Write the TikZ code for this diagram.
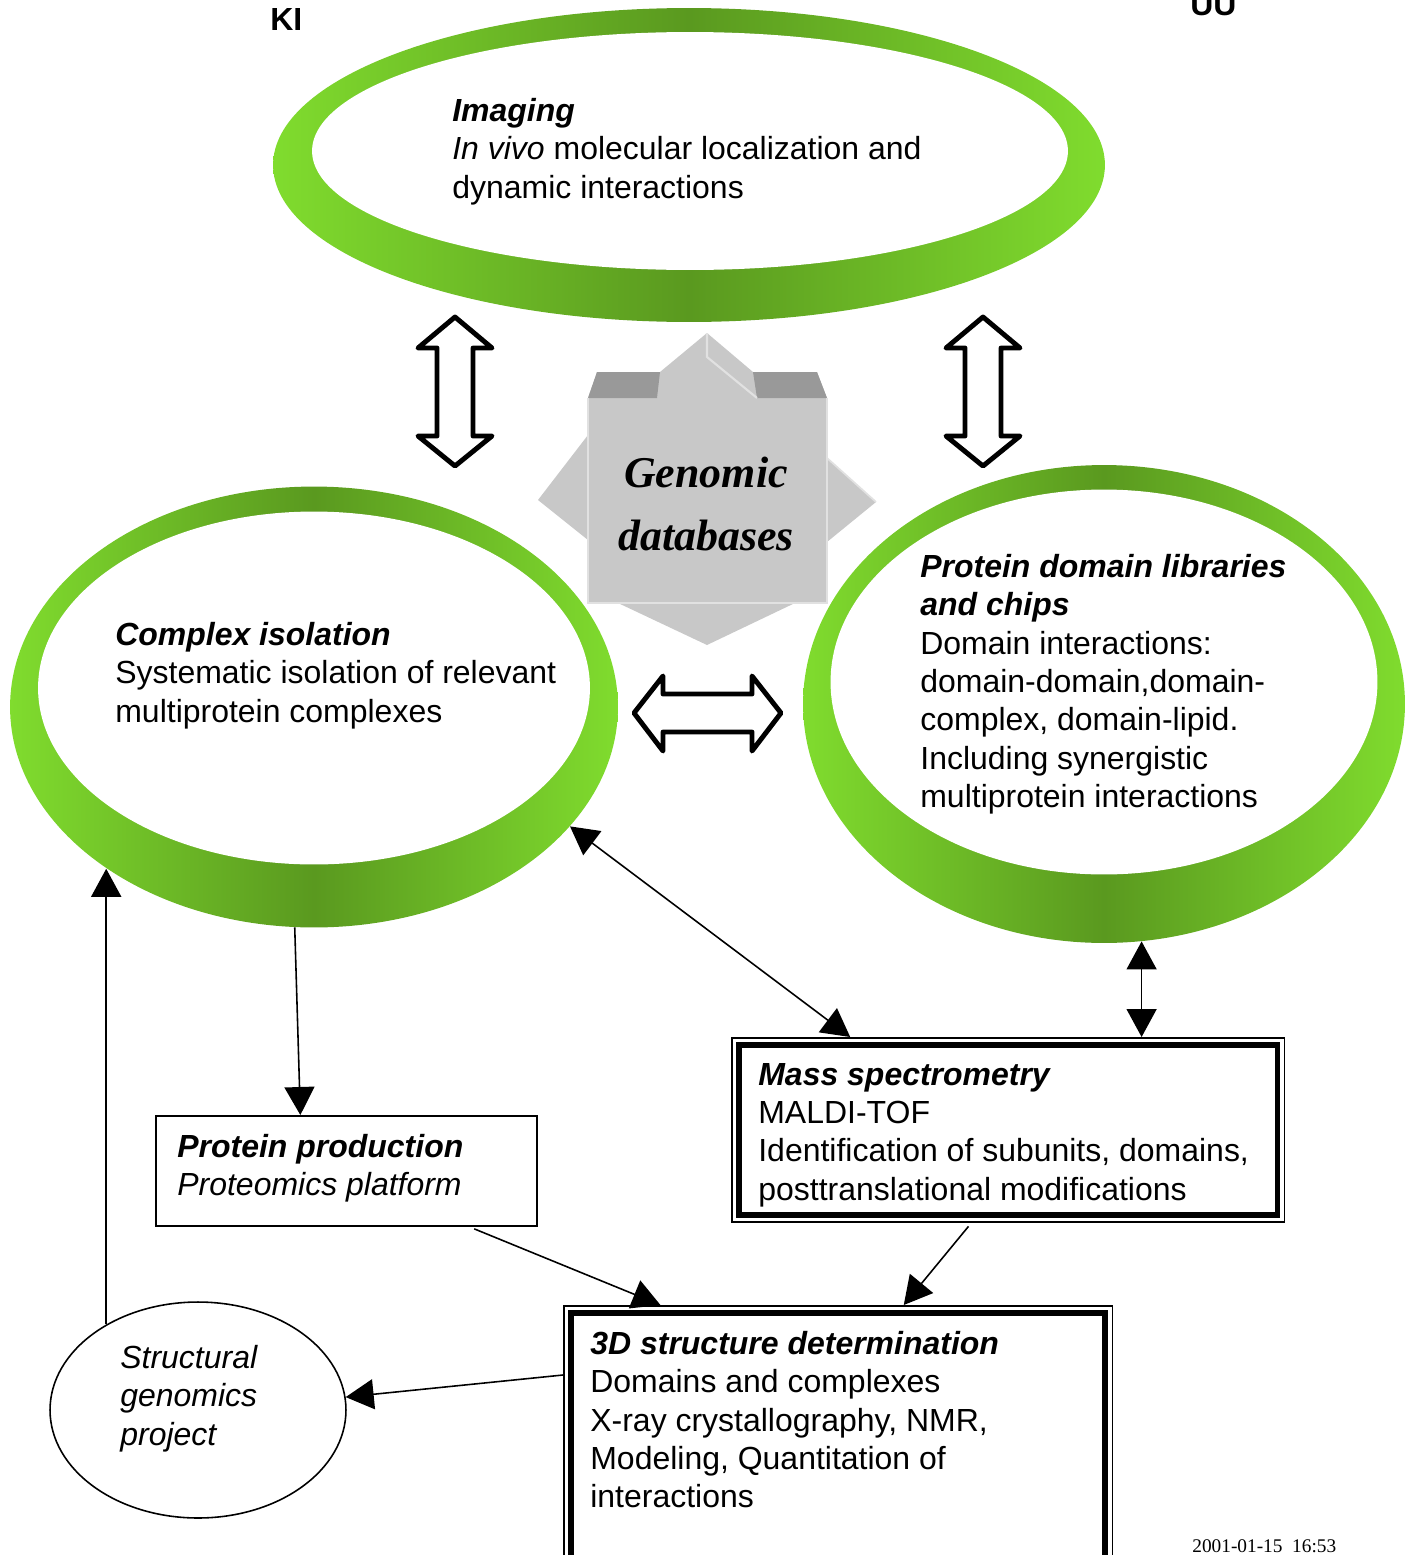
\documentclass[tikz,border=0pt]{standalone}
\usepackage{fontspec}
\setmainfont{Liberation Sans}
\newfontfamily\stampfont{Liberation Serif}
\usepackage{tikz}
\usepackage{xcolor}
\definecolor{LeafLight}{RGB}{128, 220, 46}
\definecolor{LeafDark}{RGB}{90, 153, 31}
\definecolor{StarFace}{RGB}{200, 200, 200}
\definecolor{StarTop}{RGB}{153, 153, 153}
\definecolor{StarEdge}{RGB}{225, 225, 225}
\usetikzlibrary{arrows.meta, positioning, shapes.geometric, calc}

\begin{document}
\begin{tikzpicture}[
    x=0.02cm, y=-0.02cm,
    leafring/.style={ellipse, inner sep=0pt, left color=LeafLight, right color=LeafLight, middle color=LeafDark},
    leafhole/.style={ellipse, inner sep=0pt, fill=white},
    bodytext/.style={anchor=north west, inner sep=0pt, align=left, font=\fontsize{18.2}{21.8}\selectfont},
    plainbox/.style={rectangle, draw, line width=0.9pt, anchor=north west, inner sep=0pt},
    thickframe/.style={line width=3.4pt},
    conn/.style={-{Triangle[length=0.56cm, width=0.6cm]}, line width=0.9pt},
    biconn/.style={{Triangle[length=0.56cm, width=0.6cm]}-{Triangle[length=0.56cm, width=0.6cm]}, line width=0.9pt},
    hollow/.style={draw, fill=white, line width=2.8pt, line join=round}
]
\useasboundingbox (0,0) rectangle (1412,1555);

% Partner labels
\node[anchor=base west, inner sep=0pt, font=\fontsize{18.2}{21.8}\selectfont\bfseries] (ki) at (270,31) {KI};
\node[anchor=base west, inner sep=0pt, font=\fontsize{18.2}{21.8}\selectfont\bfseries] (uu) at (1190,15) {UU};

% Green rings
\node[leafring, minimum width=16.64cm, minimum height=6.28cm] (imgring) at (689,165) {};
\node[leafhole, minimum width=15.12cm, minimum height=4.76cm] (imghole) at (690,151) {};
\node[leafring, minimum width=12.16cm, minimum height=8.82cm] (cplxring) at (314,707) {};
\node[leafhole, minimum width=11.04cm, minimum height=7.06cm] (cplxhole) at (314,688) {};
\node[leafring, minimum width=12.04cm, minimum height=9.56cm] (domring) at (1104,704) {};
\node[leafhole, minimum width=10.94cm, minimum height=7.7cm] (domhole) at (1104,682) {};

\node[bodytext] (imgtxt) at (452,98) {\textbf{\textit{Imaging}}\\
  \textit{In vivo} molecular localization and\\
  dynamic interactions};
\node[bodytext] (cplxtxt) at (115,622) {\textbf{\textit{Complex isolation}}\\
  Systematic isolation of relevant\\
  multiprotein complexes};
\node[bodytext] (domtxt) at (920,554) {\textbf{\textit{Protein domain libraries}}\\
  \textbf{\textit{and chips}}\\
  Domain interactions:\\
  domain-domain,domain-\\
  complex, domain-lipid.\\
  Including synergistic\\
  multiprotein interactions};

% Genomic databases star
\fill[StarFace] (707,333) -- (660,372) -- (597,372) -- (588,398) -- (588,435) -- (538,500)
  -- (588,540) -- (588,603) -- (618,603) -- (707,645) -- (795,603) -- (827,603) -- (827,542)
  -- (876,502) -- (827,458) -- (827,398) -- (817,372) -- (753,372) -- cycle;
\fill[StarTop] (588,398) -- (597,372) -- (660,372) -- (657,398) -- cycle;
\fill[StarTop] (757,398) -- (753,372) -- (817,372) -- (827,398) -- cycle;
\draw[StarEdge, line width=1.2pt] (707,333) -- (707,357) -- (757,398);
\draw[StarEdge, line width=1pt] (588,398) -- (588,603) -- (827,603) -- (827,398);
\draw[StarEdge, line width=1pt] (827,458) -- (876,502);
\node[anchor=north, inner sep=0pt, align=center,
  font=\stampfont\fontsize{25}{35.7}\selectfont\bfseries\itshape] (gdb) at (706,457) {Genomic\\databases};

% Hollow double arrows
\draw[hollow] (455,317) -- (492,348) -- (473,348) -- (473,436) -- (492,436) -- (455,466)
  -- (418,436) -- (437,436) -- (437,348) -- (418,348) -- cycle;
\draw[hollow] (983,317) -- (1020,348) -- (1001,348) -- (1001,436) -- (1020,436) -- (983,466)
  -- (946,436) -- (965,436) -- (965,348) -- (946,348) -- cycle;
\draw[hollow] (634,713) -- (663,676) -- (663,694) -- (752,694) -- (752,676) -- (781,713)
  -- (752,751) -- (752,732) -- (663,732) -- (663,751) -- cycle;

% Boxes
\node[plainbox, minimum width=7.62cm, minimum height=2.2cm] (prod) at (155,1115) {};
\node[plainbox, minimum width=11.06cm, minimum height=3.68cm] (mass) at (731,1037) {};
\node[plainbox, minimum width=10.98cm, minimum height=6cm] (struct) at (563,1305) {};
\node[ellipse, draw, line width=0.9pt, inner sep=0pt, minimum width=5.92cm, minimum height=4.32cm] (sgp) at (198,1410) {};

\node[bodytext] (prodtxt) at (177,1134) {\textbf{\textit{Protein production}}\\
  \textit{Proteomics platform}};
\node[bodytext] (masstxt) at (758,1063) {\textbf{\textit{Mass spectrometry}}\\
  MALDI-TOF\\
  Identification of subunits, domains,\\
  posttranslational modifications};
\node[bodytext] (structtxt) at (590,1331) {\textbf{\textit{3D structure determination}}\\
  Domains and complexes\\
  X-ray crystallography, NMR,\\
  Modeling, Quantitation of\\
  interactions};
\node[bodytext] (sgptxt) at (120,1345) {\textit{Structural}\\
  \textit{genomics}\\
  \textit{project}};

% Inner thick frames
\draw[thickframe] ([shift={(8,8)}]mass.north west) rectangle ([shift={(-8,-8)}]mass.south east);
\draw[thickframe] ([shift={(8,8)}]struct.north west) rectangle ([shift={(-8,-8)}]struct.south east);

% Connectors
\draw[conn] (cplxring.-95) -- ($(prod.north west)!0.38!(prod.north east)$);
\draw[biconn] (cplxring.-25) -- ($(mass.north west)!0.215!(mass.north east)$);
\draw[biconn] (domring.-81) -- (domring.-81 |- mass.north);
\draw[conn, shorten <=0.12cm] ($(prod.south west)!0.82!(prod.south east)$) -- ($(struct.north west)!0.177!(struct.north east)$);
\draw[conn, shorten <=0.1cm] ($(mass.south west)!0.434!(mass.south east)$) -- ($(struct.north west)!0.619!(struct.north east)$);
\draw[conn] ($(struct.north west)+(0,70)$) -- (sgp.5);
\draw[conn] (sgp.137) -- (sgp.137 |- cplxring.218);

% Date stamp
\node[anchor=base west, inner sep=0pt, font=\stampfont\fontsize{11}{13}\selectfont] (stamp) at (1192,1552) {2001-01-15\ \ 16:53};

\end{tikzpicture}
\end{document}
